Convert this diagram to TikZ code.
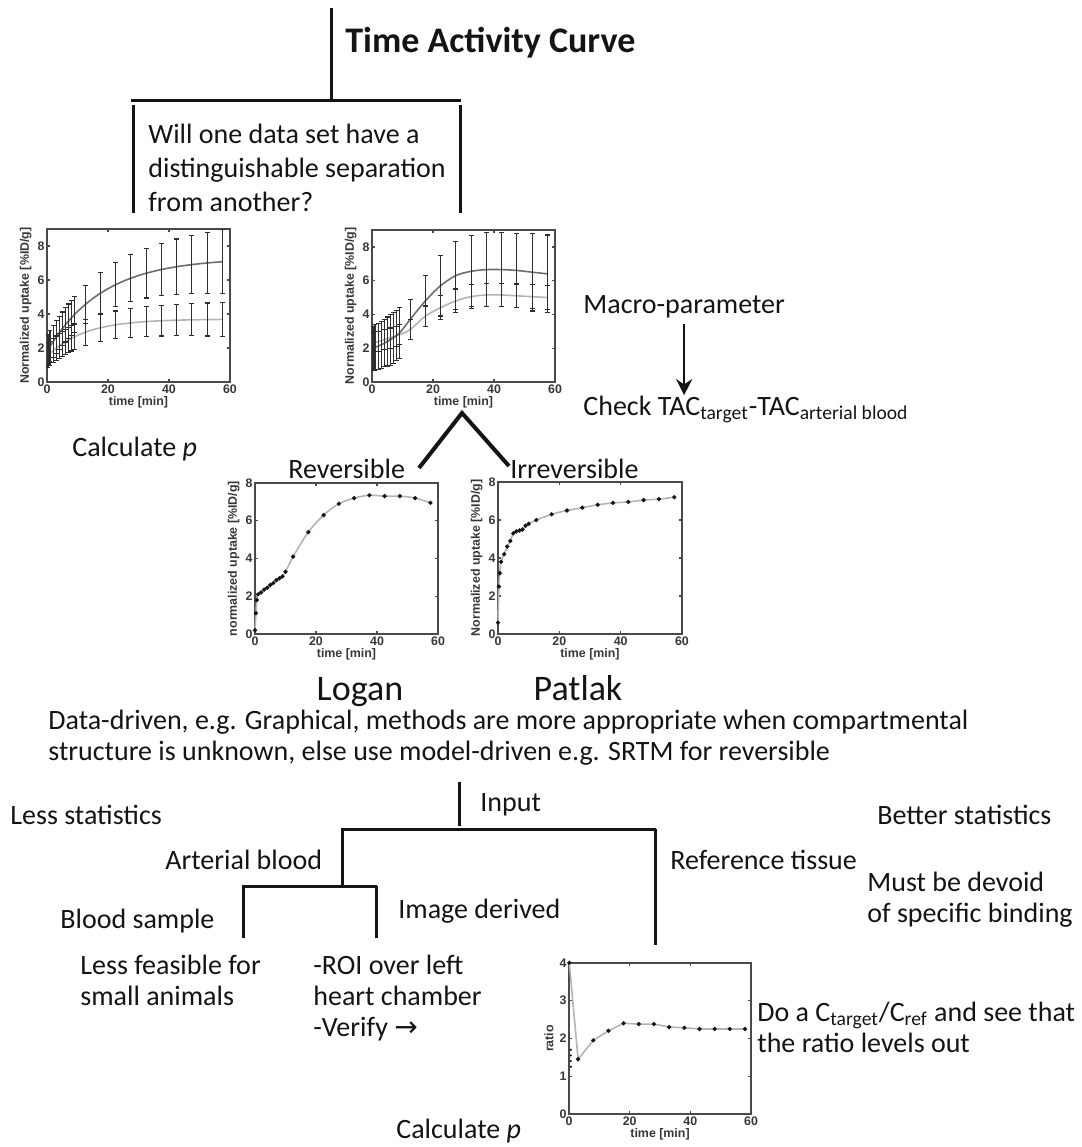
\documentclass[tikz,border=0pt]{standalone}
\usepackage{fontspec}
\setmainfont{Carlito}
\setsansfont{Liberation Sans}
\newfontfamily\arrowfont{DejaVu Sans}
\usetikzlibrary{arrows.meta, positioning, calc}
\definecolor{InkBlack}{HTML}{141414}
\definecolor{FrameGrey}{HTML}{4a4a4a}
\definecolor{CurveDark}{HTML}{6e6e6e}
\definecolor{CurveLight}{HTML}{b4b4b4}
\definecolor{BarGrey}{HTML}{2e2e2e}

\tikzset{
  treeline/.style={InkBlack, line width=1.5pt},
  txt/.style={anchor=base west, inner sep=0pt, text=InkBlack, align=left,
    font=\fontsize{14}{15.5}\selectfont},
  method/.style={anchor=base, inner sep=0pt, text=InkBlack, font=\fontsize{18}{20}\selectfont},
  plotframe/.style={FrameGrey, line width=0.7pt},
  ticklabel/.style={font=\sffamily\bfseries\fontsize{6.2}{7}\selectfont, inner sep=1pt, text=InkBlack!85},
  errline/.style={BarGrey, line width=0.6pt},
  curvedark/.style={CurveDark, line width=0.8pt},
  curvelight/.style={CurveLight, line width=0.8pt},
}

% matlab style axes box, ticks inside on all sides
\newcommand{\tacaxes}[3]{%
  \draw[plotframe] (0,0) rectangle (60,#1);
  \foreach \t in {0,20,40,60} {
    \draw[plotframe] (\t,0) -- ++(0pt,1.5pt);
    \draw[plotframe] (\t,#1) -- ++(0pt,-1.5pt);
    \node[ticklabel, below] at (\t,0) {\t};
  }
  \foreach \v in {#2} {
    \draw[plotframe] (0,\v) -- ++(1.5pt,0pt);
    \draw[plotframe] (60,\v) -- ++(-1.5pt,0pt);
    \node[ticklabel, left] at (0,\v) {\v};
  }
  \node[ticklabel, below=6pt] at (30,0) {time [min]};
  \node[ticklabel, anchor=south, rotate=90] at ($(0,#1/2)+(-6.5pt,0pt)$) {#3};
}
\newcommand{\errbar}[3]{%
  \draw[errline] (#1,#2-#3) -- (#1,#2+#3);
  \draw[errline] (#1,#2-#3) ++(-1.2pt,0pt) -- ++(2.4pt,0pt);
  \draw[errline] (#1,#2+#3) ++(-1.2pt,0pt) -- ++(2.4pt,0pt);
}

\begin{document}
\begin{tikzpicture}[x=0.5pt, y=-0.5pt]
\useasboundingbox (0,0) rectangle (1082,1147);

% Time activity curve and first question
\coordinate (tacTop) at (331,8);
\coordinate (tacJoin) at (331,100);
\coordinate (qLeft) at (131,100);
\coordinate (qRight) at (461,100);
\coordinate (qLeftTop) at (133,105);
\coordinate (qLeftEnd) at (133,213);
\coordinate (qRightTop) at (460,105);
\coordinate (qRightEnd) at (460,213);
\draw[treeline] (tacTop) -- (tacJoin);
\draw[treeline] (qLeft) -- (qRight);
\draw[treeline] (qLeftTop) -- (qLeftEnd);
\draw[treeline] (qRightTop) -- (qRightEnd);
\node[txt, font=\bfseries\fontsize{18}{20}\selectfont] (title) at (345,52) {Time Activity Curve};
\node[txt, font=\fontsize{14}{17}\selectfont] (question) at (148,211) {Will one data set have a\\distinguishable separation\\from another?};

% Two groups, clear separation
\coordinate (plotA) at (47,382);
\begin{scope}[shift={(plotA)}, x=1.525pt, y=8.5pt]
  \tacaxes{9}{0,2,4,6,8}{Normalized uptake [\%ID/g]}
  \draw[curvelight, domain=0.3:57.5, samples=40, smooth] plot (\x, {1.5+2.2*(1-exp(-\x/12))});
  \draw[curvedark, domain=0.3:57.5, samples=40, smooth] plot (\x, {1.8+5.5*(1-exp(-\x/18))});
  \foreach \t in {0.3,1,2,...,9,12.5,17.5,...,57.5} {
    \pgfmathsetmacro\m{1.5+2.2*(1-exp(-\t/12))}
    \pgfmathsetmacro\e{0.7+0.3*\t/58}
    \errbar{\t}{\m}{\e}
    \pgfmathsetmacro\m{1.8+5.5*(1-exp(-\t/18))}
    \pgfmathsetmacro\e{0.9+\t/58}
    \errbar{\t}{\m}{\e}
  }
\end{scope}

% Two groups, overlapping early frames
\coordinate (plotB) at (372,382);
\begin{scope}[shift={(plotB)}, x=1.525pt, y=8.45pt]
  \tacaxes{9}{0,2,4,6,8}{Normalized uptake [\%ID/g]}
  \draw[curvelight] plot[smooth] coordinates {(0.3,2.3) (4,2.5) (9,2.8) (12.5,3.1) (17.5,3.9)
    (22.5,4.4) (27.5,4.8) (32.5,5.05) (37.5,5.15) (42.5,5.15) (47.5,5.1) (52.5,5.05) (57.5,5.0)};
  \draw[curvedark] plot[smooth] coordinates {(0.3,2.0) (3,2.2) (6,2.5) (9,2.9) (12.5,3.7) (17.5,4.8)
    (22.5,5.7) (27.5,6.3) (32.5,6.55) (37.5,6.65) (42.5,6.65) (47.5,6.6) (52.5,6.5) (57.5,6.4)};
  \foreach \t/\m/\e in {0.3/2.3/0.6, 2/2.4/0.6, 4/2.5/0.6, 6/2.6/0.6, 8/2.7/0.6, 9/2.8/0.6,
    12.5/3.1/0.6, 17.5/3.9/0.6, 22.5/4.4/0.7, 27.5/4.8/0.7, 32.5/5.05/0.7, 37.5/5.15/0.7,
    42.5/5.15/0.7, 47.5/5.1/0.7, 52.5/5.05/0.7, 57.5/5.0/0.7}
    {\errbar{\t}{\m}{\e}}
  \foreach \t/\m/\e in {0.3/2.0/1.3, 1/2.05/1.35, 2/2.1/1.35, 3/2.2/1.4, 4/2.3/1.4, 5/2.4/1.45,
    6/2.5/1.5, 7/2.6/1.5, 8/2.75/1.5, 9/2.9/1.5, 12.5/3.7/1.2, 17.5/4.8/1.5, 22.5/5.7/1.8,
    27.5/6.3/2.0, 32.5/6.55/2.1, 37.5/6.65/2.2, 42.5/6.65/2.2, 47.5/6.6/2.2, 52.5/6.5/2.3, 57.5/6.4/2.3}
    {\errbar{\t}{\m}{\e}}
\end{scope}

\node[txt] (calcTop) at (72,456) {Calculate \textit{p}};

% Macro-parameter branch
\node[txt] (macro) at (583,313) {Macro-parameter};
\node[txt] (check) at (583,415) {Check TAC\textsubscript{target}-TAC\textsubscript{arterial blood}};
\draw[InkBlack, line width=1.3pt, -{Stealth[length=8pt, width=8pt]}] ([yshift=-3pt]macro.south) -- (macro.south |- check.north);

% Reversible / irreversible split
\coordinate (splitTop) at (462,413);
\coordinate (revEnd) at (419,468);
\coordinate (irrEnd) at (509,466);
\draw[InkBlack, line width=2pt] (revEnd) -- (splitTop) -- (irrEnd);
\node[txt] (rev) at (288,478) {Reversible};
\node[txt] (irrev) at (510,478) {Irreversible};

\coordinate (plotC) at (255,634);
\begin{scope}[shift={(plotC)}, x=1.525pt, y=9.44pt]
  \tacaxes{8}{0,2,4,6,8}{normalized uptake [\%ID/g]}
  \draw[curvelight] plot[smooth, mark=*, mark size=0.6pt, mark options={InkBlack}] coordinates {
    (0,0.2) (0.3,1.1) (0.6,1.8) (1,2.1) (2,2.2) (3,2.35) (4,2.45) (5,2.6) (6,2.7) (7,2.85)
    (8,2.95) (9,3.05) (10,3.3) (12.5,4.1) (17.5,5.4) (22.5,6.3) (27.5,6.9) (32.5,7.2)
    (37.5,7.35) (42.5,7.3) (47.5,7.3) (52.5,7.2) (57.5,6.95)};
\end{scope}

\coordinate (plotD) at (498,634);
\begin{scope}[shift={(plotD)}, x=1.533pt, y=9.5pt]
  \tacaxes{8}{0,2,4,6,8}{Normalized uptake [\%ID/g]}
  \draw[curvelight] plot[smooth, mark=*, mark size=0.6pt, mark options={InkBlack}] coordinates {
    (0,0.6) (0.3,2.5) (0.6,3.2) (1,3.8) (2,4.2) (3,4.6) (4,4.9) (5,5.3) (6,5.4) (7,5.45)
    (8,5.5) (9,5.7) (10,5.8) (12.5,6.0) (17.5,6.3) (22.5,6.5) (27.5,6.65) (32.5,6.8)
    (37.5,6.9) (42.5,6.95) (47.5,7.05) (52.5,7.1) (57.5,7.2)};
\end{scope}

\node[method] (logan) at (360,700) {Logan};
\node[method] (patlak) at (578,700) {Patlak};
\node[txt] (datadriven) at (48,760) {Data-driven, e.g. Graphical, methods are more appropriate when compartmental\\structure is unknown, else use model-driven e.g. SRTM for reversible};

% Input function tree
\coordinate (inputTop) at (459,782);
\coordinate (inputJoin) at (459,826);
\coordinate (inLeft) at (341,829);
\coordinate (inRight) at (656,829);
\coordinate (arterialTop) at (342,829);
\coordinate (arterialJoin) at (342,886);
\coordinate (referenceTop) at (655,829);
\coordinate (referenceEnd) at (655,945);
\coordinate (bloodLeft) at (242,886);
\coordinate (bloodRight) at (377,886);
\coordinate (sampleTop) at (243,886);
\coordinate (sampleEnd) at (243,938);
\coordinate (imageTop) at (376,886);
\coordinate (imageEnd) at (376,938);
\draw[treeline] (inputTop) -- (inputJoin);
\draw[treeline] (inLeft) -- (inRight);
\draw[treeline] (arterialTop) -- (arterialJoin);
\draw[treeline] (referenceTop) -- (referenceEnd);
\draw[treeline] (bloodLeft) -- (bloodRight);
\draw[treeline] (sampleTop) -- (sampleEnd);
\draw[treeline] (imageTop) -- (imageEnd);

\node[txt] (input) at (480,811) {Input};
\node[txt] (lessStat) at (10,824) {Less statistics};
\node[txt] (betterStat) at (877,824) {Better statistics};
\node[txt] (arterial) at (165,869) {Arterial blood};
\node[txt] (reference) at (670,869) {Reference tissue};
\node[txt] (devoid) at (867,922) {Must be devoid\\of specific binding};
\node[txt] (bloodSample) at (60,928) {Blood sample};
\node[txt] (imageDerived) at (398,918) {Image derived};
\node[txt] (feasible) at (80,1005) {Less feasible for\\small animals};
\node[txt] (roi) at (313,1036) {-ROI over left\\heart chamber\\-Verify {\arrowfont →}};

% Target over reference ratio
\coordinate (plotE) at (569,1114);
\begin{scope}[shift={(plotE)}, x=1.517pt, y=18.9pt]
  \tacaxes{4}{0,1,2,3,4}{ratio}
  \draw[curvelight] plot[mark=*, mark size=0.6pt, mark options={InkBlack}] coordinates {
    (0.1,4) (3,1.45) (8,1.95) (13,2.2) (18,2.4) (23,2.38) (28,2.38) (33,2.3) (38,2.28)
    (43,2.25) (48,2.25) (53,2.25) (58,2.25)};
  \foreach \v in {1.25,1.4,1.55,1.7}
    \fill[InkBlack] (0.6,\v) circle[radius=0.6pt];
\end{scope}

\node[txt] (ratioNote) at (757,1052) {Do a C\textsubscript{target}/C\textsubscript{ref} and see that\\the ratio levels out};
\node[txt] (calcBottom) at (396,1138) {Calculate \textit{p}};
\end{tikzpicture}
\end{document}
